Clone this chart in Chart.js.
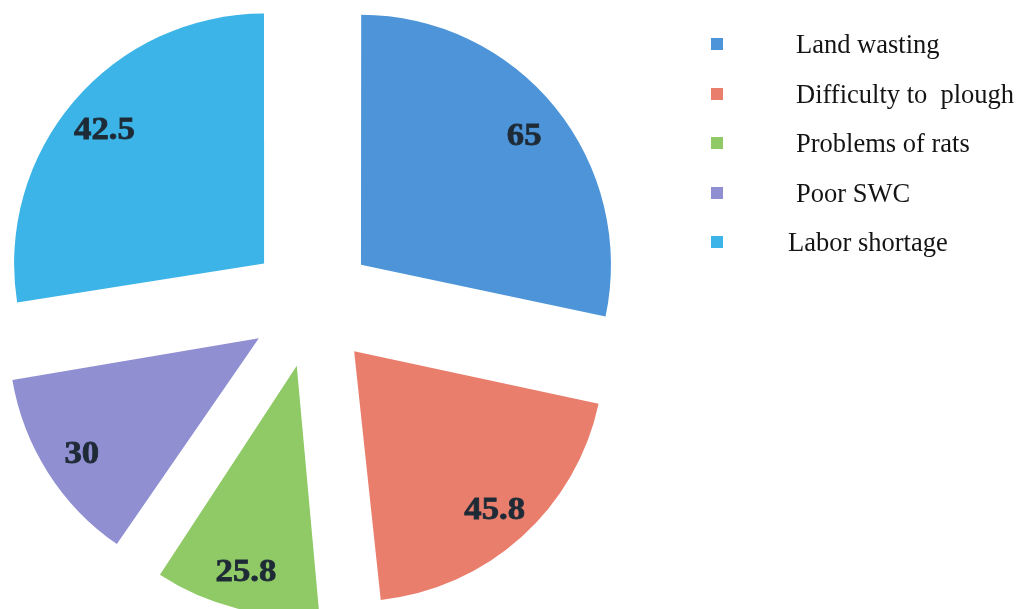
<!DOCTYPE html>
<html>
<head>
<meta charset="utf-8">
<script src="https://cdn.jsdelivr.net/npm/chart.js@4"></script>
<style>
    body { margin: 0; background: #fff; }
    #wrap { position: relative; width: 1020px; height: 609px; overflow: hidden; }
    #legend { position: absolute; left: 700px; top: 26px; font-family: "Liberation Serif", "Times New Roman", serif; font-size: 26.5px; color: #141414; }
    .row { position: relative; height: 49.5px; line-height: 36px; }
    .box { position: absolute; left: 11px; top: 12px; width: 12px; height: 12px; }
    .txt { position: absolute; left: 96px; top: 0; white-space: pre; }
</style>
</head>
<body>
<div id="wrap">
    <canvas id="pieChart" width="1020" height="609"></canvas>
    <div id="legend"></div>
</div>
<script>
// labels printed on the slices
var categories = ['Land wasting', 'Difficulty to  plough', 'Problems of rats', 'Poor SWC', 'Labor shortage'];
var values = [65, 45.8, 25.8, 30, 42.5];
// slice sizes as drawn in the picture (degrees), they don't follow the printed values
var shares = [102, 72, 40, 47, 99];
var colors = ['#4d95d8', '#ea7e6c', '#8fca66', '#8f8fd2', '#3cb4e8'];

var RADIUS = 250;
var EXPLODE = 63;   // how far each slice is pulled out

// chart.js v4 grows the arc radius a bit when offset is used, undo that
var radiusFix = {
    id: 'radiusFix',
    afterDatasetUpdate: function (chart, args) {
        var meta = chart.getDatasetMeta(args.index);
        meta.data.forEach(function (arc) {
            var fix = 1 - Math.sin(Math.min(Math.PI, arc.circumference));
            arc.outerRadius = RADIUS - EXPLODE * fix;
        });
    }
};

var sliceLabels = {
    id: 'sliceLabels',
    afterDatasetsDraw: function (chart) {
        var ctx = chart.ctx;
        var meta = chart.getDatasetMeta(0);
        meta.data.forEach(function (arc, i) {
            var mid = (arc.startAngle + arc.endAngle) / 2;
            var r = EXPLODE + RADIUS * 0.84;
            var x = arc.x + Math.cos(mid) * r;
            var y = arc.y + Math.sin(mid) * r + 4;
            ctx.save();
            ctx.translate(x, y);
            ctx.scale(1.12, 1);   // the scanned labels are wide
            ctx.font = 'bold 31px "Liberation Serif", "Times New Roman", serif';
            ctx.fillStyle = '#1e2b36';
            ctx.strokeStyle = '#1e2b36';
            ctx.lineWidth = 0.8;
            ctx.textAlign = 'center';
            ctx.textBaseline = 'middle';
            ctx.fillText(values[i], 0, 0);
            ctx.strokeText(values[i], 0, 0);
            ctx.restore();
        });
    }
};

var ctx = document.getElementById('pieChart').getContext('2d');
var pieChart = new Chart(ctx, {
    type: 'pie',
    data: {
        labels: categories,
        datasets: [{
            data: shares,
            backgroundColor: colors,
            borderWidth: 0,
            offset: EXPLODE * 4
        }]
    },
    options: {
        responsive: false,
        animation: false,
        radius: RADIUS,
        layout: { padding: { left: 0, right: 396, top: 0, bottom: 0 } },
        plugins: {
            legend: { display: false },
            tooltip: { enabled: false }
        }
    },
    plugins: [radiusFix, sliceLabels]
});

// legend on the right
var legend = document.getElementById('legend');
categories.forEach(function (name, i) {
    var row = document.createElement('div');
    row.className = 'row';
    var box = document.createElement('div');
    box.className = 'box';
    box.style.background = colors[i];
    var txt = document.createElement('div');
    txt.className = 'txt';
    txt.textContent = name;
    if (i === 4) txt.style.left = '88px';
    row.appendChild(box);
    row.appendChild(txt);
    legend.appendChild(row);
});
</script>
</body>
</html>
